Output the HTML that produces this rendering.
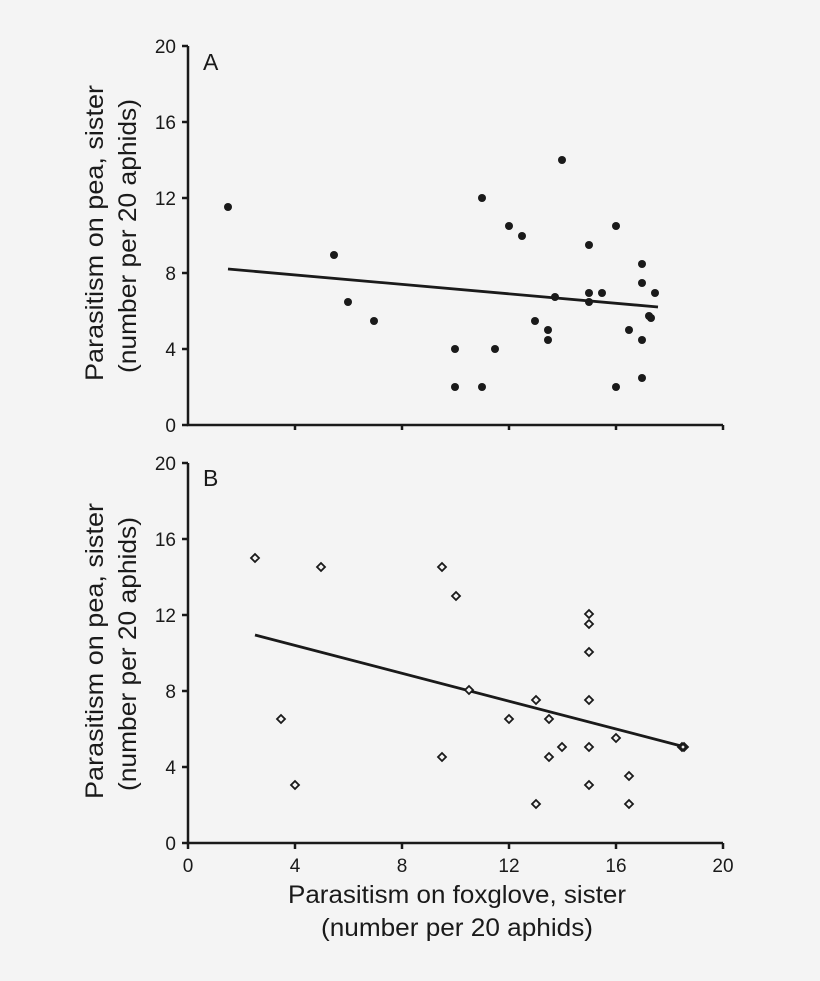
<!DOCTYPE html>
<html><head><style>
body{margin:0;background:#f4f4f4;}
svg{display:block;font-family:"Liberation Sans",sans-serif;}
</style></head><body>
<svg width="820" height="981" viewBox="0 0 820 981" xmlns="http://www.w3.org/2000/svg">
<rect width="820" height="981" fill="#f4f4f4"/>
<g stroke="#1a1a1a" stroke-width="2.5" fill="none">
<path d="M188,46 V425 H723"/>
<path d="M182,46H188 M182,122H188 M182,198H188 M182,273H188 M182,349H188 M182,425H188"/>
<path d="M295,425V430 M402,425V430 M509,425V430 M616,425V430 M723,425V430"/>
<path d="M188,463 V843 H723"/>
<path d="M182,463H188 M182,539H188 M182,615H188 M182,691H188 M182,767H188 M182,843H188"/>
<path d="M188,843V849 M295,843V849 M402,843V849 M509,843V849 M616,843V849 M723,843V849"/>
<path d="M228,269 L658,307" stroke-width="2.8"/>
<path d="M255,635 L685,747" stroke-width="2.8"/>
</g>
<g fill="#1a1a1a" font-size="19" text-anchor="end">
<text x="176" y="53">20</text><text x="176" y="129">16</text><text x="176" y="205">12</text><text x="176" y="280">8</text><text x="176" y="356">4</text><text x="176" y="432">0</text>
<text x="176" y="470">20</text><text x="176" y="546">16</text><text x="176" y="622">12</text><text x="176" y="698">8</text><text x="176" y="774">4</text><text x="176" y="850">0</text>
</g>
<g fill="#1a1a1a" font-size="19" text-anchor="middle">
<text x="188" y="872">0</text><text x="295" y="872">4</text><text x="402" y="872">8</text><text x="509" y="872">12</text><text x="616" y="872">16</text><text x="723" y="872">20</text>
</g>
<g fill="#1a1a1a" font-size="23">
<text x="203" y="70">A</text><text x="203" y="486">B</text>
</g>
<g fill="#1a1a1a" font-size="25" text-anchor="middle">
<text x="457" y="903" textLength="338" lengthAdjust="spacingAndGlyphs">Parasitism on foxglove, sister</text>
<text x="457" y="936" textLength="272" lengthAdjust="spacingAndGlyphs">(number per 20 aphids)</text>
<text transform="translate(103,233) rotate(-90)" textLength="296" lengthAdjust="spacingAndGlyphs">Parasitism on pea, sister</text>
<text transform="translate(136,236) rotate(-90)" textLength="274" lengthAdjust="spacingAndGlyphs">(number per 20 aphids)</text>
<text transform="translate(103,651) rotate(-90)" textLength="296" lengthAdjust="spacingAndGlyphs">Parasitism on pea, sister</text>
<text transform="translate(136,654) rotate(-90)" textLength="274" lengthAdjust="spacingAndGlyphs">(number per 20 aphids)</text>
</g>
<g fill="#1a1a1a">
<circle cx="228" cy="207" r="4"/><circle cx="334" cy="255" r="4"/><circle cx="348" cy="302" r="4"/><circle cx="374" cy="321" r="4"/>
<circle cx="455" cy="349" r="4"/><circle cx="455" cy="387" r="4"/><circle cx="482" cy="387" r="4"/><circle cx="482" cy="198" r="4"/>
<circle cx="495" cy="349" r="4"/><circle cx="509" cy="226" r="4"/><circle cx="522" cy="236" r="4"/><circle cx="535" cy="321" r="4"/>
<circle cx="548" cy="330" r="4"/><circle cx="548" cy="340" r="4"/><circle cx="555" cy="297" r="4"/><circle cx="562" cy="160" r="4"/>
<circle cx="589" cy="245" r="4"/><circle cx="589" cy="293" r="4"/><circle cx="589" cy="302" r="4"/><circle cx="602" cy="293" r="4"/>
<circle cx="616" cy="226" r="4"/><circle cx="616" cy="387" r="4"/><circle cx="629" cy="330" r="4"/><circle cx="642" cy="264" r="4"/>
<circle cx="642" cy="283" r="4"/><circle cx="642" cy="340" r="4"/><circle cx="642" cy="378" r="4"/><circle cx="649" cy="316" r="4"/>
<circle cx="651" cy="318" r="4"/><circle cx="655" cy="293" r="4"/>
</g>
<g fill="#f4f4f4" stroke="#1a1a1a" stroke-width="1.8">
<path d="M255,554l4,4l-4,4l-4,-4z M281,715l4,4l-4,4l-4,-4z M295,781l4,4l-4,4l-4,-4z M321,563l4,4l-4,4l-4,-4z
M442,563l4,4l-4,4l-4,-4z M442,753l4,4l-4,4l-4,-4z M456,592l4,4l-4,4l-4,-4z M469,686l4,4l-4,4l-4,-4z
M509,715l4,4l-4,4l-4,-4z M536,800l4,4l-4,4l-4,-4z M536,696l4,4l-4,4l-4,-4z M549,715l4,4l-4,4l-4,-4z
M549,753l4,4l-4,4l-4,-4z M562,743l4,4l-4,4l-4,-4z M589,610l4,4l-4,4l-4,-4z M589,620l4,4l-4,4l-4,-4z
M589,648l4,4l-4,4l-4,-4z M589,696l4,4l-4,4l-4,-4z M589,743l4,4l-4,4l-4,-4z M589,781l4,4l-4,4l-4,-4z
M616,734l4,4l-4,4l-4,-4z M629,772l4,4l-4,4l-4,-4z M629,800l4,4l-4,4l-4,-4z M682,743l4,4l-4,4l-4,-4z M684,743l4,4l-4,4l-4,-4z"/>
</g>
</svg>
</body></html>
